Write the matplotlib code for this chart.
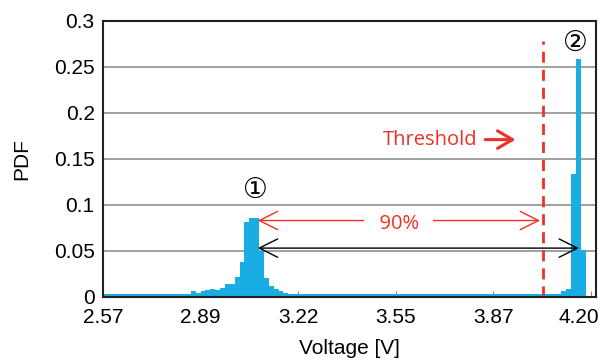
import matplotlib.pyplot as plt
import matplotlib.transforms as mtransforms
import numpy as np

plt.rcParams['font.family'] = ['Liberation Sans', 'DejaVu Sans']

# histogram of cell voltage, 100 bins from 2.57 V to 4.20 V
v_start = 2.57
v_stop = 4.20
pdf = [
    0.003, 0.003, 0.003, 0.003, 0.003, 0.003, 0.003, 0.003, 0.003, 0.003,
    0.003, 0.003, 0.003, 0.003, 0.003, 0.003, 0.003, 0.003, 0.006, 0.004,
    0.006, 0.007, 0.009, 0.007, 0.010, 0.014, 0.014, 0.022, 0.038, 0.081,
    0.086, 0.086, 0.050, 0.020, 0.012, 0.008, 0.006, 0.004, 0.003, 0.003,
    0.003, 0.003, 0.003, 0.003, 0.003, 0.003, 0.003, 0.003, 0.003, 0.003,
    0.003, 0.003, 0.003, 0.003, 0.003, 0.003, 0.003, 0.003, 0.003, 0.003,
    0.003, 0.003, 0.003, 0.003, 0.003, 0.003, 0.003, 0.003, 0.003, 0.003,
    0.003, 0.003, 0.003, 0.003, 0.003, 0.003, 0.003, 0.003, 0.003, 0.003,
    0.003, 0.003, 0.003, 0.003, 0.003, 0.003, 0.003, 0.003, 0.003, 0.003,
    0.003, 0.003, 0.003, 0.003, 0.006, 0.009, 0.134, 0.259, 0.051, 0.0,
]
xtick_labels = ['2.57', '2.89', '3.22', '3.55', '3.87', '4.20']
yticks = [0, 0.05, 0.1, 0.15, 0.2, 0.25, 0.3]

threshold = 4.04
peak1_v = 3.078
peak2_v = 4.17

red = '#EE3124'
blue = '#1AADE4'

edges = np.linspace(v_start, v_stop, len(pdf) + 1)
xticks = np.linspace(v_start, v_stop, len(xtick_labels))

fig = plt.figure(figsize=(6.13, 3.62), dpi=100)
ax = fig.add_axes([0.168, 0.180, 0.804, 0.762])

ax.stairs(pdf, edges, fill=True, color=blue, zorder=3)

ax.set_xlim(v_start, 4.217)
ax.set_ylim(0, 0.3)
ax.set_xticks(xticks)
ax.set_xticklabels(xtick_labels)
ax.set_yticks(yticks)
ax.set_yticklabels(['0', '0.05', '0.1', '0.15', '0.2', '0.25', '0.3'])
ax.tick_params(axis='y', labelsize=15, length=0, pad=6)
ax.tick_params(axis='x', labelsize=15, direction='in', length=4,
               color='#888888', pad=8)
# last label sits a bit left, inside the picture
last = ax.get_xticklabels()[-1]
last.set_transform(last.get_transform() +
                   mtransforms.ScaledTranslation(-0.12, 0, fig.dpi_scale_trans))
ax.grid(axis='y', color='#999999', linewidth=1.3, zorder=1)
for s in ax.spines.values():
    s.set_color('#222222')
    s.set_linewidth(1.5)
    s.set_zorder(5)

ax.set_xlabel('Voltage [V]', fontsize=15, labelpad=9)
ax.set_ylabel('PDF', fontsize=15, labelpad=16)

# threshold line
ax.plot([threshold, threshold], [0, 0.278], color=red, linestyle=(0, (4, 2.5)),
        linewidth=2, zorder=4)
ax.text(3.823, 0.171, 'Threshold', color=red, fontsize=14.5, ha='right',
        va='center', family=['Open Sans', 'DejaVu Sans'])
ax.annotate('', xy=(3.958, 0.171), xytext=(3.838, 0.171),
            arrowprops=dict(arrowstyle='->,head_length=0.6,head_width=0.35',
                            color=red, lw=2.2, mutation_scale=18))

# 90% range arrows
ax.annotate('', xy=(peak1_v, 0.083), xytext=(threshold, 0.083),
            arrowprops=dict(arrowstyle='<->,head_length=0.6,head_width=0.3',
                            color=red, lw=1, mutation_scale=22), zorder=6)
ax.text((peak1_v + threshold) / 2, 0.079, '  90%  ', color=red,
        fontsize=14.5, ha='center', va='center',
        family=['Open Sans', 'DejaVu Sans'],
        bbox=dict(facecolor='white', edgecolor='none', pad=3), zorder=7)
ax.annotate('', xy=(peak1_v, 0.053), xytext=(peak2_v, 0.053),
            arrowprops=dict(arrowstyle='<->,head_length=0.6,head_width=0.3',
                            color='black', lw=1, mutation_scale=22), zorder=6)

ax.text(3.08, 0.116, '\u2460', fontsize=20, ha='center', va='center',
        family=['DejaVu Sans'])
ax.text(4.15, 0.276, '\u2461', fontsize=20, ha='center', va='center',
        family=['DejaVu Sans'])

fig.savefig('out.png', dpi=100)
